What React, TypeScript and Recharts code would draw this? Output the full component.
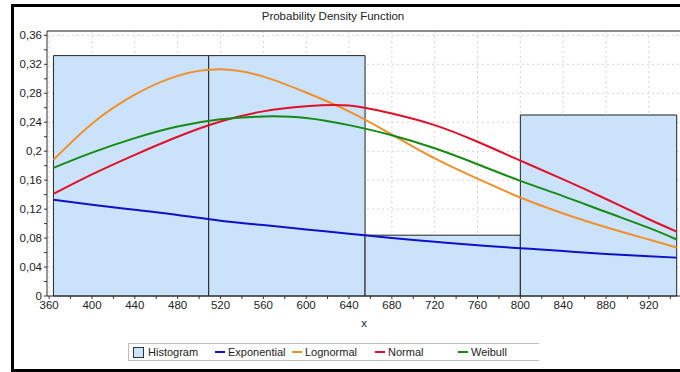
import {
  CartesianGrid,
  ComposedChart,
  Label,
  Line,
  ReferenceArea,
  ReferenceLine,
  XAxis,
  YAxis,
} from "recharts";

// x positions where the fitted curves were read
const xValues = [364, 400, 440, 480, 520, 560, 600, 640, 680, 720, 760, 800, 840, 880, 920, 946];
const exponential = [0.133, 0.126, 0.119, 0.112, 0.104, 0.098, 0.092, 0.086, 0.08, 0.075, 0.07, 0.066, 0.062, 0.058, 0.055, 0.053];
const lognormal = [0.188, 0.238, 0.278, 0.304, 0.313, 0.303, 0.281, 0.255, 0.223, 0.19, 0.162, 0.136, 0.114, 0.095, 0.078, 0.067];
const normal = [0.141, 0.168, 0.195, 0.22, 0.241, 0.255, 0.262, 0.263, 0.252, 0.236, 0.213, 0.187, 0.161, 0.134, 0.106, 0.089];
const weibull = [0.177, 0.198, 0.218, 0.234, 0.244, 0.248, 0.246, 0.236, 0.222, 0.204, 0.182, 0.159, 0.138, 0.116, 0.094, 0.078];

// histogram bins
const binEdges = [364, 509, 655, 800, 946];
const binHeights = [0.332, 0.332, 0.084, 0.25];

// axes
const xMajorTicks = [360, 400, 440, 480, 520, 560, 600, 640, 680, 720, 760, 800, 840, 880, 920];
const xMinorTicks = [380, 420, 460, 500, 540, 580, 620, 660, 700, 740, 780, 820, 860, 900, 940];
const yMajorTicks = [0, 0.04, 0.08, 0.12, 0.16, 0.2, 0.24, 0.28, 0.32, 0.36];
const yMinorTicks = [0.02, 0.06, 0.1, 0.14, 0.18, 0.22, 0.26, 0.3, 0.34];
const xDomain = [358, 950];
const yDomain = [0, 0.366];

const series = [
  { key: "exponential", name: "Exponential", color: "#1010c8" },
  { key: "lognormal", name: "Lognormal", color: "#f0902a" },
  { key: "normal", name: "Normal", color: "#e01028" },
  { key: "weibull", name: "Weibull", color: "#158a15" },
];

const data = xValues.map((x, i) => ({
  x,
  exponential: exponential[i],
  lognormal: lognormal[i],
  normal: normal[i],
  weibull: weibull[i],
}));

const histFill = "#cbe3fa";
const font = '"Liberation Sans", Arial, sans-serif';

const fmtY = (v: number) =>
  yMajorTicks.some((t) => Math.abs(t - v) < 1e-9) ? String(+v.toFixed(2)).replace(".", ",") : "";
const fmtX = (v: number) => (xMajorTicks.includes(v) ? String(v) : "");

const legendWidths = [86, 77, 83, 83, 60];

export default function App() {
  return (
    <div
      style={{
        position: "absolute",
        left: 0,
        top: 0,
        width: 680,
        height: 372,
        overflow: "hidden",
        background: "#fff",
        fontFamily: font,
      }}
    >
      <div
        style={{
          position: "absolute",
          left: 11,
          top: 4,
          width: 700,
          height: 362,
          border: "3px solid #000",
          borderRight: "none",
        }}
      />
      <div
        style={{
          position: "absolute",
          top: 10,
          left: 233,
          width: 200,
          textAlign: "center",
          fontSize: 11.5,
          color: "#222",
        }}
      >
        Probability Density Function
      </div>
      <div style={{ position: "absolute", left: 0, top: 0 }}>
        <ComposedChart
          width={681}
          height={329}
          data={data}
          margin={{ top: 31, right: 0, bottom: 0, left: 0 }}
        >
          <CartesianGrid
            stroke="#d4d4d4"
            strokeDasharray="2 3"
            verticalValues={xMajorTicks}
            horizontalValues={yMajorTicks}
          />
          <XAxis
            dataKey="x"
            type="number"
            domain={xDomain}
            ticks={[...xMajorTicks, ...xMinorTicks].sort((a, b) => a - b)}
            interval={0}
            tickFormatter={fmtX}
            tickSize={3}
            allowDataOverflow
            height={33}
            stroke="#333"
            tick={{ fill: "#222", fontSize: 11.5, fontFamily: font }}
          >
            <Label value="x" position="insideBottom" offset={2} fill="#222" fontSize={11.5} />
          </XAxis>
          <YAxis
            type="number"
            domain={yDomain}
            ticks={[...yMajorTicks, ...yMinorTicks].sort((a, b) => a - b)}
            interval={0}
            tickFormatter={fmtY}
            tickSize={3}
            allowDataOverflow
            width={47}
            stroke="#333"
            tick={{ fill: "#222", fontSize: 11.5, fontFamily: font }}
          />
          <ReferenceLine y={yDomain[1]} stroke="#666" strokeWidth={1.5} />
          {binHeights.map((h, i) => (
            <ReferenceArea
              key={i}
              x1={binEdges[i]}
              x2={binEdges[i + 1]}
              y1={0}
              y2={h}
              fill={histFill}
              fillOpacity={1}
              stroke="#222"
              strokeWidth={1}
            />
          ))}
          {series.map((s) => (
            <Line
              key={s.key}
              dataKey={s.key}
              name={s.name}
              type="natural"
              stroke={s.color}
              strokeWidth={2}
              dot={false}
              isAnimationActive={false}
            />
          ))}
        </ComposedChart>
      </div>
      <div
        style={{
          position: "absolute",
          left: 128,
          top: 343,
          width: 410,
          height: 16,
          borderTop: "1px solid #bbb",
          borderBottom: "1px solid #bbb",
          borderLeft: "1px solid #bbb",
          display: "flex",
          alignItems: "center",
          fontSize: 11,
          color: "#222",
        }}
      >
        <div style={{ width: legendWidths[0], flexShrink: 0, display: "flex", alignItems: "center", paddingLeft: 4, boxSizing: "border-box" }}>
          <span
            style={{
              display: "inline-block",
              flexShrink: 0,
              width: 9,
              height: 9,
              background: histFill,
              border: "1px solid #333",
              marginRight: 4,
            }}
          />
          Histogram
        </div>
        {series.map((s, i) => (
          <div
            key={s.key}
            style={{ width: legendWidths[i + 1], flexShrink: 0, display: "flex", alignItems: "center" }}
          >
            <span
              style={{
                display: "inline-block",
                flexShrink: 0,
                width: 10,
                height: 2,
                background: s.color,
                marginRight: 3,
              }}
            />
            {s.name}
          </div>
        ))}
      </div>
    </div>
  );
}
